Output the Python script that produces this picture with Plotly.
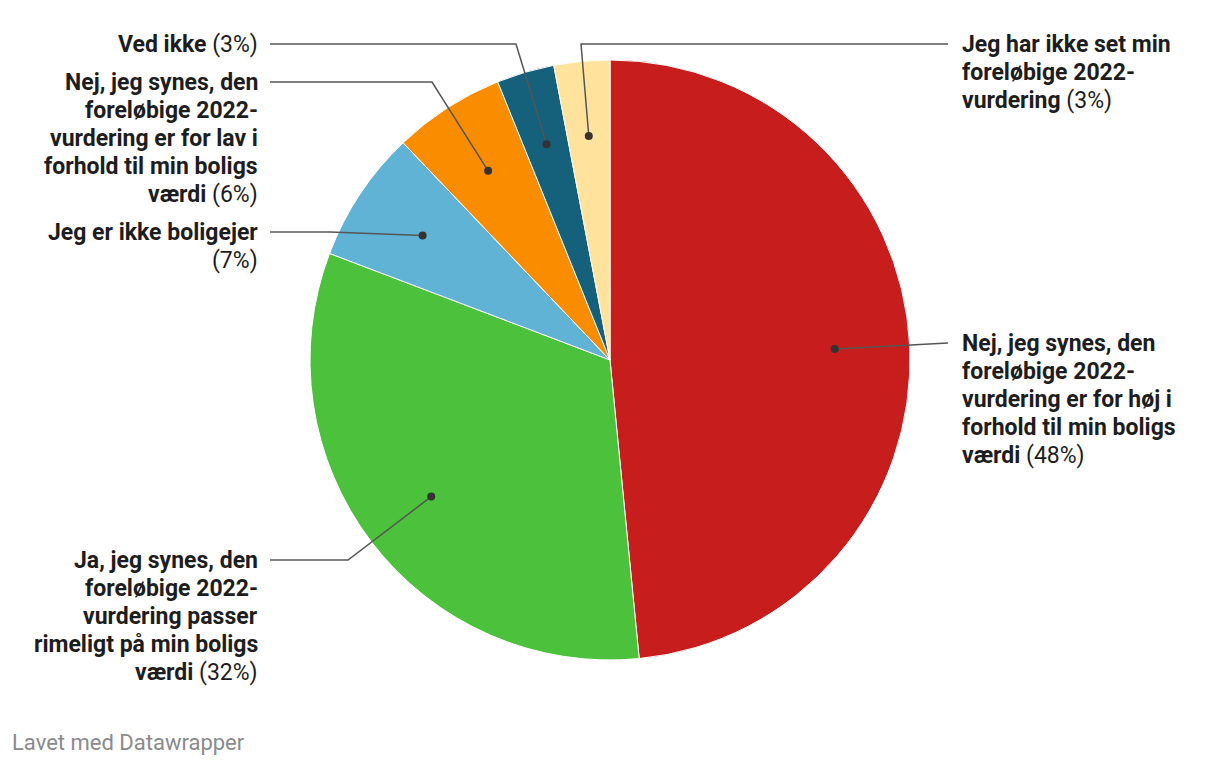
import math
import plotly.graph_objects as go

# ---- data ----
categories = [
    "Nej, jeg synes, den foreløbige 2022-vurdering er for høj i forhold til min boligs værdi",
    "Ja, jeg synes, den foreløbige 2022-vurdering passer rimeligt på min boligs værdi",
    "Jeg er ikke boligejer",
    "Nej, jeg synes, den foreløbige 2022-vurdering er for lav i forhold til min boligs værdi",
    "Ved ikke",
    "Jeg har ikke set min foreløbige 2022-vurdering",
]
values = [48.4, 32.3, 7.1, 6.0, 3.1, 3.0]
colors = ["#c71e1d", "#4cc13c", "#61b3d6", "#fa8c00", "#15607a", "#ffe29c"]

# label line breaks (text layout)
label_lines = [
    ["Nej, jeg synes, den", "foreløbige 2022-", "vurdering er for høj i", "forhold til min boligs", "værdi"],
    ["Ja, jeg synes, den", "foreløbige 2022-", "vurdering passer", "rimeligt på min boligs", "værdi"],
    ["Jeg er ikke boligejer", ""],
    ["Nej, jeg synes, den", "foreløbige 2022-", "vurdering er for lav i", "forhold til min boligs", "værdi"],
    ["Ved ikke"],
    ["Jeg har ikke set min", "foreløbige 2022-", "vurdering"],
]

# ---- layout constants (pixels) ----
W, H = 1220, 766
CX, CY, R = 610, 360, 300
DOT_R = 0.75 * R
LINE_H = 28
sides = ["right", "left", "left", "left", "left", "right"]
anchor_y = [343, 560, 232, 82, 44, 44]
elbow_x = [None, 348, 330, 432, 516, 581]
FONT = "Roboto"
TXT = "#1d1d1d"
LINE_C = "#555555"

fig = go.Figure()

fig.add_trace(go.Pie(
    labels=categories, values=values, sort=False, direction="clockwise",
    rotation=0, textinfo="none", hoverinfo="label+percent",
    marker=dict(colors=colors, line=dict(color="white", width=1)),
    domain=dict(x=[(CX - R) / W, (CX + R) / W], y=[(H - CY - R) / H, (H - CY + R) / H]),
    showlegend=False,
))

total = sum(values)
cum = 0.0
for i, v in enumerate(values):
    theta = 2 * math.pi * (cum + v / 2) / total
    cum += v
    dx = CX + DOT_R * math.sin(theta)
    dy = CY - DOT_R * math.cos(theta)
    ay = anchor_y[i]
    end_x = 948 if sides[i] == "right" else 270
    pts = [(dx, dy)]
    if elbow_x[i] is not None:
        pts.append((elbow_x[i], ay))
    pts.append((end_x, ay))
    path = "M " + " L ".join(f"{px:.2f},{py:.2f}" for px, py in pts)
    fig.add_shape(type="path", path=path, xref="x", yref="y", layer="above",
                  line=dict(color=LINE_C, width=1.5))
    fig.add_shape(type="circle", xref="x", yref="y", layer="above",
                  x0=dx - 4, x1=dx + 4, y0=dy - 4, y1=dy + 4,
                  fillcolor="#333333", line=dict(width=0))

    pct = f"({round(v)}%)"
    lines = label_lines[i]
    tx = 960 if sides[i] == "right" else 260
    xa = "left" if sides[i] == "right" else "right"
    for j, ln in enumerate(lines):
        if j == len(lines) - 1:
            txt = (f"<b>{ln}</b> " if ln else "") + pct
        else:
            txt = f"<b>{ln}</b>"
        fig.add_annotation(x=tx, y=ay + j * LINE_H, xref="x", yref="y", text=txt,
                           showarrow=False, xanchor=xa, yanchor="middle",
                           font=dict(family=FONT, size=23, color=TXT))

fig.add_annotation(x=10, y=742, xref="x", yref="y", text="Lavet med Datawrapper",
                   showarrow=False, xanchor="left", yanchor="middle",
                   font=dict(family=FONT, size=22, color="#8a8a8a"))

fig.update_layout(
    width=W, height=H, margin=dict(l=0, r=0, t=0, b=0),
    paper_bgcolor="white", plot_bgcolor="rgba(0,0,0,0)",
    xaxis=dict(range=[0, W], visible=False, fixedrange=True, domain=[0, 1]),
    yaxis=dict(range=[H, 0], visible=False, fixedrange=True, domain=[0, 1]),
)

fig.write_html("out.html")
